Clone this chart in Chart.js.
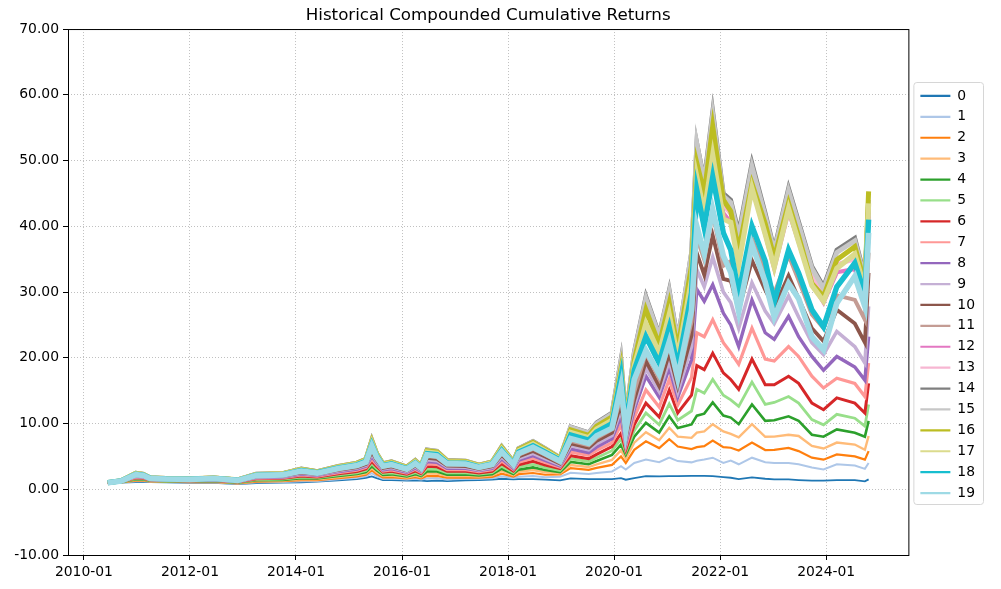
<!DOCTYPE html>
<html>
<head>
<meta charset="utf-8">
<script src="https://cdn.jsdelivr.net/npm/chart.js@4.4.1/dist/chart.umd.min.js"></script>
<style>
  html, body { margin: 0; padding: 0; background: #fff; }
  #wrap { width: 1001px; height: 589px; }
</style>
</head>
<body>
<div id="wrap"><canvas id="retChart"></canvas></div>
<script>
// fechas en años decimales
const dates = [2010.45,2010.7,2010.98,2011.12,2011.25,2011.55,2012.0,2012.45,2012.9,2013.25,
  2013.75,2014.1,2014.4,2014.8,2015.15,2015.32,2015.43,2015.52,2015.64,2015.8,
  2016.09,2016.25,2016.36,2016.47,2016.66,2016.85,2017.2,2017.45,2017.7,2017.88,
  2018.1,2018.2,2018.47,2018.7,2018.98,2019.18,2019.52,2019.67,2019.96,2020.13,
  2020.22,2020.38,2020.6,2020.85,2021.04,2021.2,2021.46,2021.56,2021.7,2021.86,
  2022.06,2022.2,2022.35,2022.6,2022.85,2023.02,2023.29,2023.48,2023.73,2023.95,
  2024.2,2024.54,2024.73,2024.8];

const s0 = [1.00,1.00,1.10,1.12,1.08,1.05,0.98,0.97,0.80,0.95, 1.00,1.05,1.15,1.35,1.55,1.75,1.95,1.70,1.40,1.40,
  1.30,1.35,1.30,1.25,1.30,1.25,1.35,1.40,1.45,1.60, 1.50,1.55,1.55,1.45,1.35,1.65,1.55,1.55,1.55,1.70,
  1.45,1.70,2.00,1.95,2.00,2.00,2.05,2.05,2.05,2.00, 1.85,1.75,1.55,1.80,1.60,1.50,1.50,1.40,1.30,1.30, 1.40,1.40,1.20,1.50];
const s1 = [1.00,1.02,1.21,1.21,1.13,1.10,1.03,1.03,0.85,1.06, 1.11,1.21,1.27,1.52,1.75,1.98,2.45,2.00,1.60,1.62,
  1.47,1.59,1.48,1.63,1.66,1.50,1.59,1.58,1.67,1.99, 1.72,1.92,2.01,1.83,1.90,2.51,2.33,2.49,2.71,3.50,
  3.00,4.00,4.51,4.11,4.80,4.28,4.09,4.33,4.52,4.80, 4.00,4.37,3.80,4.80,4.11,4.00,4.00,3.80,3.30,3.00, 3.80,3.60,3.10,4.00];
const s2 = [1.00,1.05,1.32,1.31,1.19,1.15,1.08,1.10,0.90,1.17, 1.22,1.38,1.40,1.69,1.94,2.21,2.89,2.31,1.80,1.85,
  1.64,1.84,1.67,2.01,2.02,1.75,1.82,1.77,1.89,2.38, 1.93,2.29,2.47,2.21,2.25,3.22,2.96,3.26,3.71,4.99,
  4.00,6.00,7.30,6.26,7.60,6.49,6.12,6.40,6.55,7.40, 6.40,6.31,5.90,7.10,5.96,6.00,6.30,5.80,4.80,4.50, 5.30,5.00,4.50,5.80];
const s3 = [1.00,1.07,1.42,1.40,1.24,1.19,1.13,1.16,0.96,1.27, 1.34,1.54,1.52,1.87,2.14,2.43,3.23,2.61,2.00,2.07,
  1.80,2.08,1.85,2.39,2.38,2.01,2.06,1.95,2.11,2.78, 2.15,2.67,2.93,2.59,2.42,3.69,3.38,3.77,4.47,5.93,
  4.60,7.08,8.69,7.45,9.36,8.00,7.82,8.62,8.79,9.90, 8.80,8.43,7.90,9.90,7.98,8.00,8.30,8.10,6.60,6.20, 7.10,6.80,6.00,8.10];
const s4 = [1.00,1.09,1.52,1.49,1.29,1.24,1.17,1.21,1.00,1.37, 1.43,1.69,1.63,2.02,2.31,2.63,3.50,2.88,2.18,2.27,
  1.95,2.30,2.01,2.72,2.70,2.23,2.27,2.11,2.30,3.12, 2.34,2.99,3.33,2.92,2.59,4.16,3.81,4.29,5.22,6.79,
  5.25,8.00,10.1,8.63,11.1,9.31,9.86,11.2,11.5,13.2, 11.2,10.9,9.90,12.9,10.4,10.5,11.1,10.4,8.30,8.00, 9.10,8.60,8.00,10.4];
const s5 = [1.00,1.12,1.63,1.58,1.34,1.28,1.22,1.27,1.05,1.48, 1.55,1.85,1.76,2.19,2.51,2.86,3.89,3.18,2.38,2.49,
  2.12,2.54,2.20,3.10,3.06,2.48,2.50,2.30,2.52,3.51, 2.55,3.36,3.79,3.30,2.87,4.63,4.23,4.80,5.87,7.64,
  5.65,8.90,11.6,9.82,13.0,10.5,11.9,15.2,14.6,16.7, 14.3,13.6,12.6,16.3,12.9,13.2,14.1,13.1,10.6,9.80, 11.4,10.8,9.60,12.9];
const s6 = [1.00,1.14,1.74,1.67,1.40,1.33,1.27,1.34,1.11,1.59, 1.66,2.01,1.88,2.36,2.70,3.09,4.23,3.49,2.58,2.72,
  2.29,2.78,2.38,3.48,3.42,2.73,2.74,2.48,2.74,3.90, 2.77,3.74,4.25,3.68,3.14,5.10,4.65,5.31,6.48,8.50,
  6.00,9.80,13.1,11.0,15.1,11.6,14.3,18.8,18.2,20.7, 17.7,16.7,15.2,19.8,15.9,15.9,17.2,16.1,13.1,12.1, 13.9,13.1,11.6,16.1];
const s7 = [1.00,1.17,1.84,1.77,1.45,1.38,1.32,1.40,1.16,1.69, 1.77,2.18,2.00,2.53,2.90,3.32,4.61,3.79,2.78,2.94,
  2.46,3.03,2.57,3.86,3.78,2.98,2.97,2.67,2.96,4.30, 2.99,4.11,4.71,4.06,3.35,5.65,5.15,5.91,7.08,9.80,
  6.51,10.9,15.1,12.5,16.7,12.8,17.0,23.8,23.2,25.8, 22.3,20.8,19.0,24.5,19.8,19.5,21.7,20.2,17.2,15.4, 16.9,16.1,14.1,19.2];
const s8 = [1.00,1.19,1.94,1.85,1.50,1.42,1.36,1.45,1.20,1.79, 1.87,2.32,2.11,2.68,3.07,3.52,5.00,4.06,2.95,3.14,
  2.60,3.24,2.73,4.20,4.09,3.20,3.18,2.83,3.16,4.64, 3.17,4.43,5.12,4.40,3.56,6.13,5.57,6.42,7.68,11.1,
  6.99,12.1,17.2,14.0,18.4,14.0,19.7,30.4,28.6,31.1, 26.8,25.0,21.7,28.8,23.8,22.8,26.3,23.2,20.2,18.1, 20.2,18.6,16.6,23.2];
const s9 = [1.00,1.20,2.02,1.92,1.54,1.46,1.40,1.50,1.24,1.87, 1.95,2.44,2.20,2.81,3.22,3.69,5.39,4.28,3.10,3.30,
  2.73,3.42,2.86,4.48,4.36,3.39,3.36,2.96,3.32,4.93, 3.34,4.71,5.46,4.68,3.73,6.60,5.99,6.94,8.18,12.1,
  7.47,12.8,18.4,14.9,19.5,14.8,21.7,33.4,30.8,35.3, 30.0,28.4,24.5,31.4,27.1,25.2,29.4,26.2,22.3,20.5, 24.0,21.7,19.2,27.8];
const s10 = [1.00,1.22,2.10,1.99,1.58,1.49,1.44,1.55,1.28,1.95, 2.04,2.57,2.30,2.94,3.36,3.86,5.72,4.51,3.25,3.47,
  2.85,3.61,3.00,4.77,4.63,3.58,3.53,3.10,3.49,5.23, 3.50,4.99,5.81,4.97,3.90,6.99,6.34,7.36,8.59,13.0,
  7.94,13.6,19.5,15.7,20.7,15.7,23.4,35.9,32.6,38.6, 32.0,31.7,27.2,34.8,30.3,27.6,32.5,29.0,24.5,22.5, 27.3,25.2,22.3,32.9];
const s11 = [1.00,1.24,2.18,2.06,1.62,1.53,1.48,1.59,1.32,2.03, 2.12,2.69,2.39,3.07,3.51,4.03,6.11,4.74,3.40,3.64,
  2.98,3.79,3.14,5.05,4.90,3.77,3.71,3.24,3.65,5.52, 3.66,5.27,6.15,5.25,4.08,7.38,6.70,7.79,9.09,14.1,
  8.42,14.8,20.8,16.8,22.1,16.7,25.5,38.4,34.9,42.0, 34.0,34.7,29.8,38.1,33.1,29.8,35.6,31.8,26.6,24.5, 29.5,28.8,25.8,36.0];
const s12 = [1.00,1.28,2.34,2.21,1.70,1.60,1.55,1.69,1.40,2.19, 2.29,2.94,2.58,3.33,3.80,4.37,6.95,5.20,3.70,3.98,
  3.23,4.16,3.42,5.62,5.44,4.15,4.06,3.52,3.98,6.11, 3.98,5.83,6.84,5.82,4.52,8.95,8.11,9.50,10.9,18.4,
  10.3,19.6,27.4,22.0,28.3,21.3,33.6,49.1,43.4,53.6, 42.0,40.6,35.3,46.3,38.8,33.6,42.3,37.6,31.3,28.4, 33.0,33.5,28.8,41.5];
const s13 = [1.00,1.29,2.38,2.24,1.72,1.62,1.57,1.71,1.42,2.23, 2.33,3.00,2.62,3.39,3.88,4.46,7.17,5.31,3.78,4.06,
  3.30,4.25,3.49,5.76,5.58,4.24,4.15,3.59,4.06,6.26, 4.07,5.97,7.01,5.96,4.63,9.19,8.32,9.76,11.2,19.0,
  10.6,20.1,28.2,22.6,29.2,21.9,34.6,50.6,45.0,55.3, 43.3,41.9,36.8,47.7,40.0,34.8,43.6,38.8,32.3,29.3, 34.2,35.0,30.0,42.5];
const s14 = [1.00,1.30,2.45,2.30,1.75,1.65,1.60,1.75,1.45,2.30, 2.40,3.10,2.70,3.50,4.00,4.60,7.50,5.50,3.90,4.20,
  3.40,4.40,3.60,6.00,5.80,4.40,4.30,3.70,4.20,6.50, 4.20,6.20,7.30,6.20,4.80,9.50,8.60,10.1,11.6,19.7,
  11.0,20.9,29.3,23.5,30.3,22.7,36.0,52.6,47.0,57.5, 45.0,44.0,39.0,49.6,42.0,36.5,45.8,40.7,33.9,30.8, 36.4,38.2,32.3,43.5];
const s15 = [1.00,1.29,2.43,2.29,1.74,1.64,1.59,1.74,1.44,2.28, 2.38,3.07,2.68,3.47,3.97,4.57,7.42,5.46,3.88,4.17,
  3.38,4.37,3.58,5.95,5.76,4.37,4.27,3.68,4.17,6.45, 4.18,6.15,7.24,6.16,4.77,9.42,8.54,10.0,11.5,19.5,
  10.9,20.7,29.0,23.3,30.0,22.5,36.0,52.6,46.6,57.0, 44.6,43.6,38.4,49.1,41.6,36.2,45.4,40.3,33.6,30.5, 36.0,37.8,32.0,44.0];
const s16 = [1.00,1.29,2.41,2.27,1.73,1.63,1.58,1.73,1.43,2.26, 2.36,3.04,2.65,3.44,3.93,4.52,7.28,5.39,3.83,4.12,
  3.34,4.31,3.53,5.86,5.67,4.31,4.21,3.63,4.12,6.35, 4.12,6.06,7.13,6.06,4.70,9.03,8.18,9.59,11.0,18.4,
  10.4,19.6,27.3,22.0,28.3,21.3,34.0,49.6,45.0,55.2, 44.0,42.3,36.4,46.5,40.4,35.2,43.5,38.5,31.3,29.3, 34.9,36.9,31.3,45.3];
const s17 = [1.00,1.28,2.36,2.22,1.70,1.61,1.56,1.70,1.41,2.21, 2.30,2.96,2.59,3.35,3.83,4.40,7.06,5.23,3.73,4.00,
  3.25,4.19,3.44,5.67,5.49,4.18,4.09,3.54,4.01,6.16, 4.01,5.88,6.90,5.87,4.56,8.64,7.83,9.16,10.5,17.7,
  10.0,18.8,25.2,20.7,26.6,20.0,31.9,47.5,42.1,50.8, 41.1,40.6,34.1,45.8,38.8,33.8,42.7,37.6,31.0,28.6, 33.6,35.8,30.5,43.5];
const s18 = [1.00,1.26,2.29,2.16,1.67,1.58,1.53,1.66,1.37,2.14, 2.23,2.85,2.51,3.24,3.71,4.26,6.78,5.04,3.60,3.86,
  3.15,4.03,3.32,5.43,5.26,4.02,3.95,3.42,3.87,5.91, 3.88,5.64,6.61,5.63,4.42,8.24,7.47,8.73,9.99,17.2,
  9.57,18.1,23.2,19.2,24.6,18.6,29.9,45.5,39.8,47.5, 39.0,36.4,29.8,40.0,34.7,28.5,36.4,32.9,27.3,24.7, 30.8,34.4,29.7,41.0];
const s19 = [1.00,1.25,2.23,2.11,1.64,1.55,1.50,1.63,1.35,2.08, 2.18,2.77,2.45,3.16,3.61,4.14,6.56,4.89,3.50,3.75,
  3.06,3.91,3.23,5.24,5.08,3.90,3.83,3.33,3.76,5.72, 3.77,5.46,6.38,5.44,4.28,7.70,6.98,8.13,9.29,15.7,
  8.90,16.7,21.1,17.5,22.4,16.9,27.2,40.0,35.8,42.5, 35.5,33.0,27.0,37.2,31.5,26.2,31.3,29.0,23.2,21.2, 28.3,32.4,27.8,39.0];

const seriesValues = [s0, s1, s2, s3, s4, s5, s6, s7, s8, s9, s10, s11, s12, s13, s14, s15, s16, s17, s18, s19];
const seriesNames = seriesValues.map((_, i) => String(i));

const xTickYears = [2010, 2012, 2014, 2016, 2018, 2020, 2022, 2024];
const xTickLabels = ['2010-01', '2012-01', '2014-01', '2016-01', '2018-01', '2020-01', '2022-01', '2024-01'];
const yTicks = [-10, 0, 10, 20, 30, 40, 50, 60, 70];

// paleta tab20
const colors = ['#1f77b4', '#aec7e8', '#ff7f0e', '#ffbb78', '#2ca02c', '#98df8a', '#d62728', '#ff9896',
  '#9467bd', '#c5b0d5', '#8c564b', '#c49c94', '#e377c2', '#f7b6d2', '#7f7f7f', '#c7c7c7',
  '#bcbd22', '#dbdb8d', '#17becf', '#9edae5'];
const widths = [1.8, 2, 2.2, 2.4, 2.6, 2.8, 3, 3.2, 3.4, 3.6, 3.8, 4, 4.2, 4.4, 4.6, 4.8, 5, 5.2, 5.4, 5.6];

const FONT = 'DejaVu Sans';

// marco del área y del legend
const framePlugin = {
  id: 'frame',
  afterDraw(chart) {
    const { ctx, chartArea: a } = chart;
    ctx.save();
    ctx.strokeStyle = '#000';
    ctx.lineWidth = 1;
    ctx.strokeRect(a.left + 0.5, a.top + 0.5, a.right - a.left, a.bottom - a.top);
    const hb = chart.legend && chart.legend.legendHitBoxes;
    if (hb && hb.length) {
      const left = hb[0].left - 7;
      const right = Math.max(...hb.map(h => h.left + h.width)) + 8;
      const top = hb[0].top - 7;
      const last = hb[hb.length - 1];
      const bottom = last.top + last.height + 4;
      ctx.strokeStyle = '#d6d6d6';
      ctx.beginPath();
      ctx.roundRect(left + 0.5, top + 0.5, right - left, bottom - top, 3);
      ctx.stroke();
    }
    ctx.restore();
  }
};

const datasets = seriesValues.map((vals, i) => ({
  label: seriesNames[i],
  data: dates.map((d, j) => ({ x: d, y: vals[j] })),
  borderColor: colors[i],
  backgroundColor: colors[i],
  borderWidth: widths[i],
  pointRadius: 0,
  tension: 0,
  fill: false,
  order: seriesValues.length - 1 - i
}));

const ctx = document.getElementById('retChart').getContext('2d');
new Chart(ctx, {
  type: 'line',
  data: { datasets: datasets },
  options: {
    responsive: true,
    maintainAspectRatio: false,
    animation: false,
    layout: { padding: { left: 0, right: 16, top: 0, bottom: 0 } },
    plugins: {
      title: {
        display: true,
        text: 'Historical Compounded Cumulative Returns',
        fullSize: false,
        color: '#000',
        font: { family: FONT, size: 16.7, weight: 'normal' },
        padding: { top: 6, bottom: 3 }
      },
      legend: {
        display: true,
        position: 'right',
        labels: {
          color: '#000',
          font: { family: FONT, size: 13.9 },
          usePointStyle: true,
          pointStyle: 'line',
          pointStyleWidth: 30,
          padding: 7,
          generateLabels(chart) {
            const items = Chart.defaults.plugins.legend.labels.generateLabels(chart);
            items.forEach(it => { it.lineWidth = 2.2; });
            return items.sort((a, b) => a.datasetIndex - b.datasetIndex);
          }
        }
      },
      tooltip: { enabled: false }
    },
    scales: {
      x: {
        type: 'linear',
        min: 2009.7,
        max: 2025.55,
        afterBuildTicks: s => { s.ticks = xTickYears.map(v => ({ value: v })); },
        afterFit: s => { s.height = 34; },
        ticks: {
          color: '#000',
          font: { family: FONT, size: 13.9 },
          padding: 4,
          maxRotation: 0,
          autoSkip: false,
          callback: v => xTickLabels[xTickYears.indexOf(v)]
        },
        grid: { color: '#b0b0b0', lineWidth: 0.8, tickLength: 5, tickColor: '#000', tickWidth: 1 },
        border: { display: false, dash: [1, 2] }
      },
      y: {
        min: -10,
        max: 70,
        afterBuildTicks: s => { s.ticks = yTicks.map(v => ({ value: v })); },
        afterFit: s => { s.width = 68; },
        ticks: {
          color: '#000',
          font: { family: FONT, size: 13.9 },
          padding: 4,
          callback: v => Number(v).toFixed(2)
        },
        grid: { color: '#b0b0b0', lineWidth: 0.8, tickLength: 5, tickColor: '#000', tickWidth: 1 },
        border: { display: false, dash: [1, 2] }
      },
      gap: {
        type: 'linear',
        position: 'right',
        display: true,
        afterFit: s => { s.width = 5; },
        ticks: { display: false },
        grid: { display: false, drawTicks: false },
        border: { display: false }
      }
    }
  },
  plugins: [framePlugin]
});
</script>
</body>
</html>
